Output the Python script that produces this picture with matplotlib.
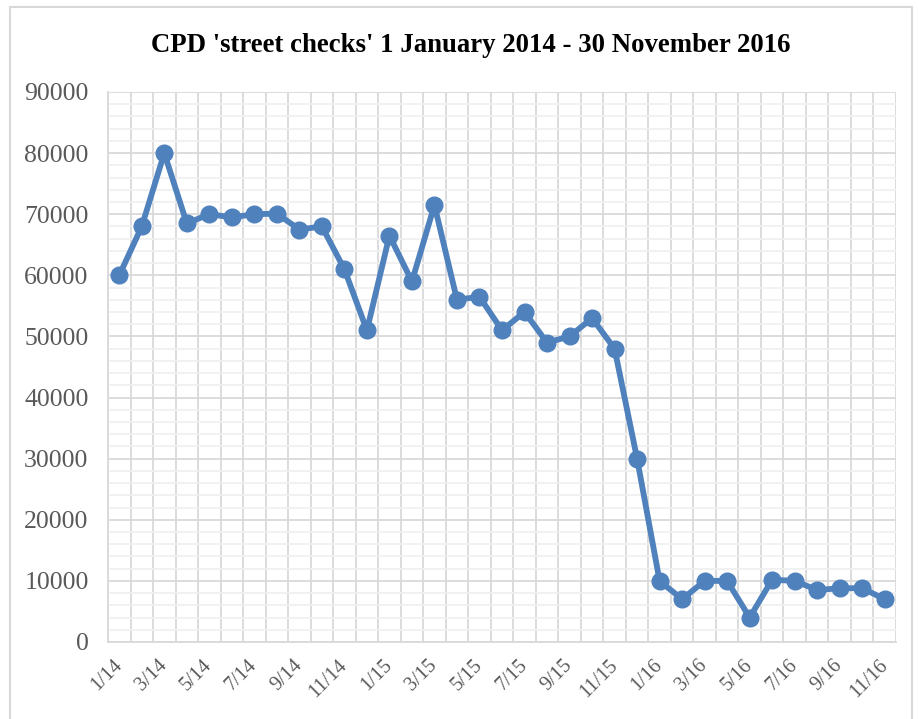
import matplotlib
matplotlib.use("Agg")
import matplotlib.pyplot as plt
from matplotlib.patches import Rectangle
from matplotlib.ticker import MultipleLocator
import numpy as np

months = ["1/14", "2/14", "3/14", "4/14", "5/14", "6/14", "7/14", "8/14", "9/14", "10/14", "11/14", "12/14",
          "1/15", "2/15", "3/15", "4/15", "5/15", "6/15", "7/15", "8/15", "9/15", "10/15", "11/15", "12/15",
          "1/16", "2/16", "3/16", "4/16", "5/16", "6/16", "7/16", "8/16", "9/16", "10/16", "11/16"]
checks = [60000, 68000, 80000, 68500, 70000, 69500, 70000, 70100, 67500, 68000, 61000, 51000,
          66500, 59000, 71500, 56000, 56500, 51000, 54000, 49000, 50000, 53000, 48000, 30000,
          10000, 7000, 10000, 10000, 4000, 10200, 10000, 8500, 8800, 8800, 7000]

plt.rcParams['font.family'] = ['Liberation Serif', 'DejaVu Serif']

fig = plt.figure(figsize=(9.19, 7.19), dpi=100)
ax = fig.add_axes([108/919, 1 - 642/719, (896-108)/919, (642-92)/719])

x = np.arange(len(months))
ax.plot(x, checks, color='#4F81BD', lw=4.2, marker='o', ms=12, zorder=3)

ax.set_xlim(-0.5, len(months) - 0.5)
ax.set_ylim(0, 90000)
ax.yaxis.set_major_locator(MultipleLocator(10000))
ax.yaxis.set_minor_locator(MultipleLocator(2000))
ax.set_xticks(x[::2])
ax.set_xticklabels(months[::2], rotation=45, ha='right', va='center', rotation_mode='anchor')
ax.set_xticks(np.arange(-0.5, len(months)), minor=True)

ax.grid(which='major', axis='y', color='#d9d9d9', lw=1.3)
ax.grid(which='minor', axis='y', color='#f0f0f0', lw=1.3)
ax.grid(which='minor', axis='x', color='#d9d9d9', lw=1.3)
ax.set_axisbelow(True)
ax.tick_params(which='both', length=0)
ax.tick_params(axis='y', labelsize=18.5, labelcolor='#595959', pad=14)
ax.tick_params(axis='x', labelsize=14.5, labelcolor='#595959', pad=15)
for s in ['top', 'right']:
    ax.spines[s].set_visible(False)
for s in ['left', 'bottom']:
    ax.spines[s].set_color('#d9d9d9')
    ax.spines[s].set_linewidth(1.3)

fig.text(0.512, 1 - 45/719, "CPD 'street checks' 1 January 2014 - 30 November 2016",
         ha='center', va='center', fontsize=19.3, fontweight='bold')

fig.patches.append(Rectangle((10/919, -0.01), 902/919, 1 - 7/719 + 0.01, transform=fig.transFigure,
                             fill=False, edgecolor='#d9d9d9', lw=1.5))

fig.savefig("out.png", dpi=100)
